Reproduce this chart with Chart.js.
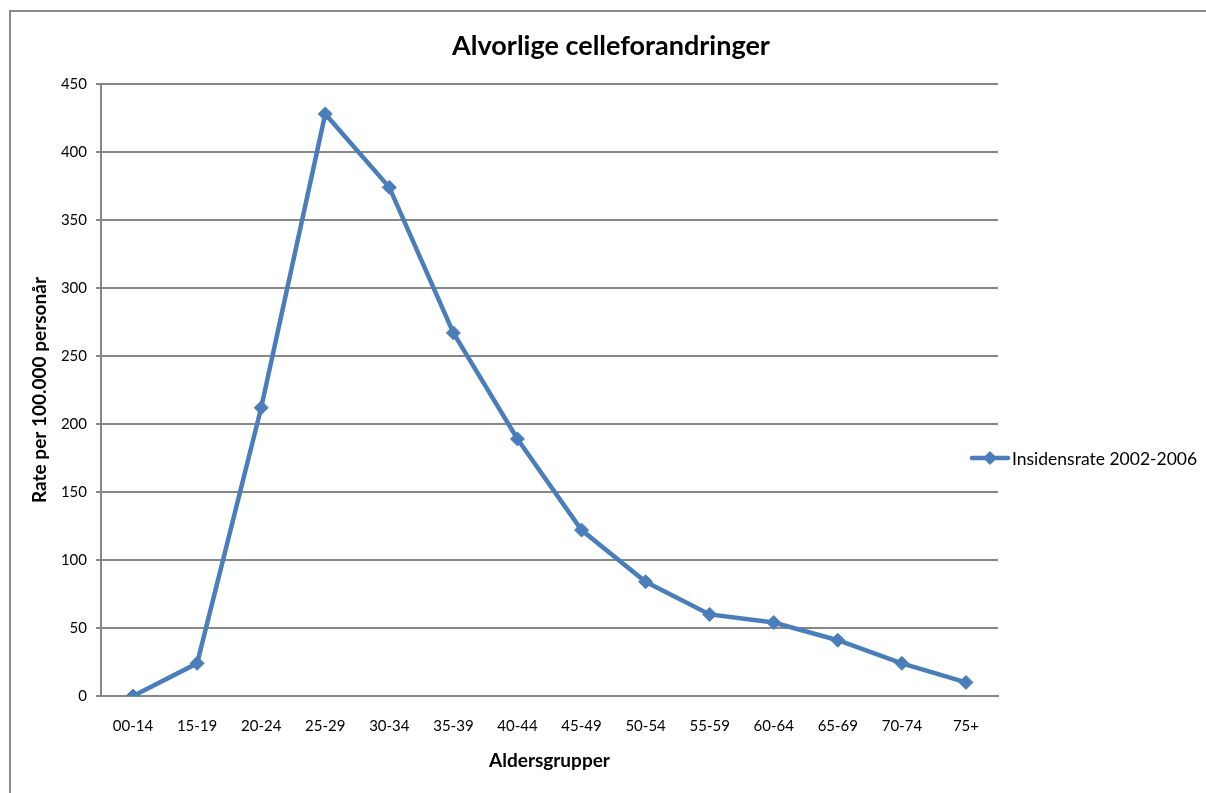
<!DOCTYPE html>
<html>
<head>
<meta charset="utf-8">
<script src="https://cdn.jsdelivr.net/npm/chart.js@4"></script>
<style>
  html, body { margin: 0; padding: 0; background: #fff; }
  #wrap { position: relative; width: 1206px; height: 793px; overflow: hidden; }
  #frame { position: absolute; left: 9px; top: 10px; width: 1300px; height: 900px;
           border-left: 2px solid #8a8a8a; border-top: 2px solid #8a8a8a; }
  canvas { position: absolute; left: 0; top: 0; }
</style>
</head>
<body>
<div id="wrap">
  <div id="frame"></div>
  <canvas id="chart" width="1206" height="793"></canvas>
</div>
<script>
/* Alvorlige celleforandringer */
const ageGroups = ['00-14', '15-19', '20-24', '25-29', '30-34', '35-39', '40-44',
  '45-49', '50-54', '55-59', '60-64', '65-69', '70-74', '75+'];
const rates = [0, 24, 212, 428, 374, 267, 189, 122, 84, 60, 54, 41, 24, 10];
const seriesName = 'Insidensrate 2002-2006';

const BLUE = '#4a7ebb';
const GRID = '#878787';
const FONT = "Lato, 'Open Sans', sans-serif";

// legend drawn beside the plot, overlapping it a bit like the Excel original
const sideLegend = {
  id: 'sideLegend',
  afterDraw(chart) {
    const { ctx, chartArea } = chart;
    const ds = chart.data.datasets[0];
    const x0 = chartArea.right - 26;
    const y = 458;
    ctx.save();
    ctx.strokeStyle = BLUE;
    ctx.lineWidth = 4.5;
    ctx.lineCap = 'round';
    ctx.beginPath();
    ctx.moveTo(x0, y);
    ctx.lineTo(x0 + 36, y);
    ctx.stroke();
    ctx.fillStyle = BLUE;
    ctx.beginPath();
    ctx.moveTo(x0 + 18, y - 7);
    ctx.lineTo(x0 + 25, y);
    ctx.lineTo(x0 + 18, y + 7);
    ctx.lineTo(x0 + 11, y);
    ctx.closePath();
    ctx.fill();
    ctx.fillStyle = '#000';
    ctx.font = '17.5px ' + FONT;
    ctx.textBaseline = 'middle';
    ctx.fillText(ds.label, x0 + 40, y + 1);
    ctx.restore();
  }
};

new Chart(document.getElementById('chart'), {
  type: 'line',
  data: {
    labels: ageGroups,
    datasets: [{
      label: seriesName,
      data: rates,
      borderColor: BLUE,
      backgroundColor: BLUE,
      borderWidth: 4.5,
      pointStyle: 'rectRot',
      pointRadius: 7,
      pointBorderWidth: 1,
      pointBackgroundColor: BLUE,
      pointBorderColor: BLUE,
      tension: 0,
      fill: false,
    }],
  },
  options: {
    responsive: false,
    animation: false,
    devicePixelRatio: 1,
    layout: { padding: { left: 16, right: 0, top: 0, bottom: 0 } },
    plugins: {
      legend: { display: false },
      tooltip: { enabled: false },
      title: {
        display: true,
        text: 'Alvorlige celleforandringer',
        color: '#000',
        font: { family: FONT, size: 27, weight: 'bold' },
        padding: { top: 30, bottom: 21.6 },
      },
    },
    scales: {
      x: {
        offset: true,
        grid: { display: false, drawTicks: false },
        border: { display: true, color: GRID, width: 2 },
        ticks: { color: '#000', font: { family: FONT, size: 15 }, padding: 21, maxRotation: 0, autoSkip: false },
        title: {
          display: true,
          text: 'Aldersgrupper',
          color: '#000',
          font: { family: FONT, size: 19, weight: 'bold' },
          padding: { top: 0, bottom: 20.6 },
        },
        afterFit(scale) { scale.height = 97; },
      },
      y: {
        min: 0,
        max: 450,
        ticks: { stepSize: 50, color: '#000', font: { family: FONT, size: 15 }, padding: 9 },
        grid: { color: GRID, lineWidth: 2, tickLength: 5, drawTicks: true },
        border: { display: true, color: GRID, width: 2 },
        title: {
          display: true,
          text: 'Rate per 100.000 personår',
          color: '#000',
          font: { family: FONT, size: 19, weight: 'bold' },
          padding: { top: 12.6, bottom: 0 },
        },
        afterFit(scale) { scale.width = 85; },
      },
      // empty right-hand axis that reserves room for the legend
      spacer: {
        type: 'linear',
        position: 'right',
        display: true,
        grid: { display: false, drawTicks: false },
        border: { display: false },
        ticks: { display: false },
        afterFit(scale) { scale.width = 208; },
      },
    },
  },
  plugins: [sideLegend],
});
</script>
</body>
</html>
